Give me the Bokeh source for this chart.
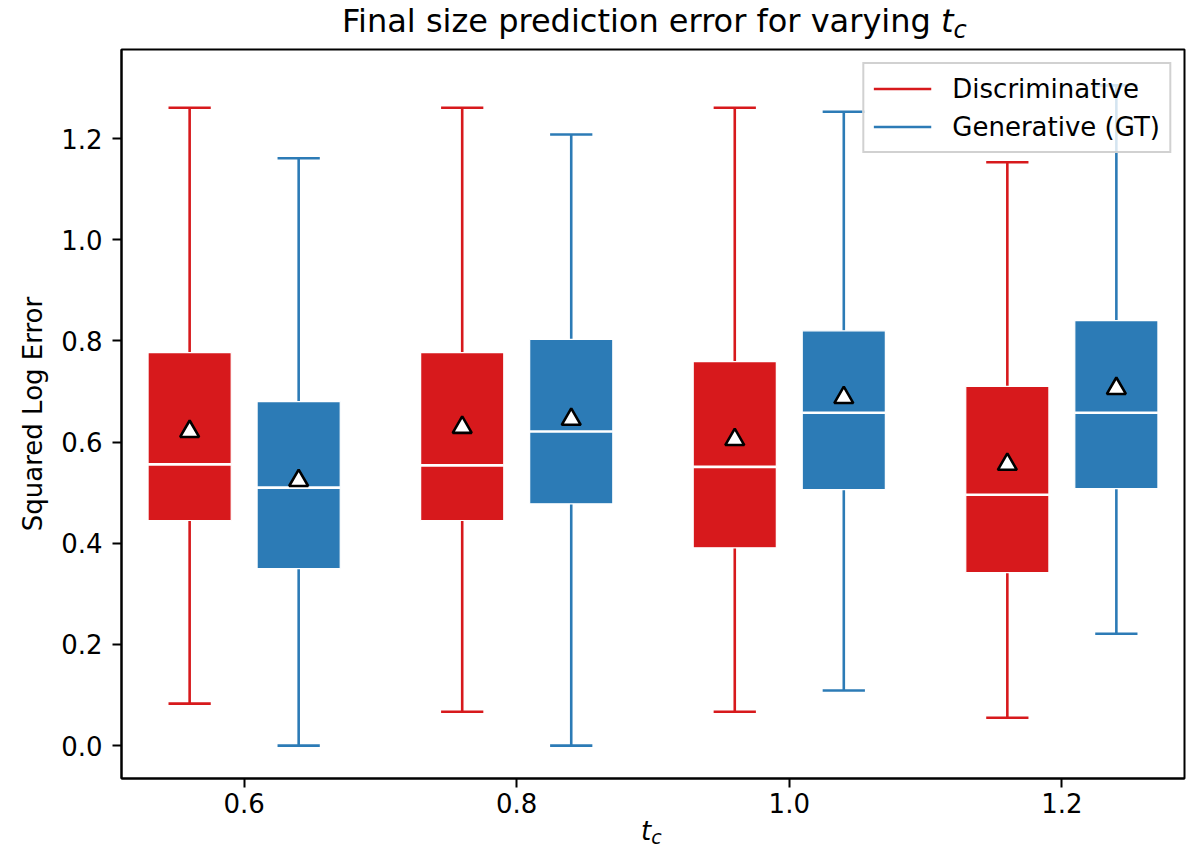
from bokeh.plotting import figure
from bokeh.models import ColumnDataSource, Legend, LegendItem, FixedTicker, Div
from bokeh.layouts import column
from bokeh.transform import dodge
from bokeh.embed import file_html
from bokeh.resources import INLINE

# ---------------- data ----------------
t_c = [0.6, 0.8, 1.0, 1.2]
x_tick_labels = ["0.6", "0.8", "1.0", "1.2"]
y_ticks = [0.0, 0.2, 0.4, 0.6, 0.8, 1.0, 1.2]
y_tick_labels = ["0.0", "0.2", "0.4", "0.6", "0.8", "1.0", "1.2"]

disc_low = [0.083, 0.067, 0.067, 0.055]
disc_q1 = [0.445, 0.445, 0.391, 0.342]
disc_median = [0.556, 0.554, 0.551, 0.496]
disc_q3 = [0.777, 0.777, 0.759, 0.710]
disc_high = [1.261, 1.261, 1.261, 1.153]
disc_mean = [0.621, 0.629, 0.605, 0.556]

gen_low = [0.0, 0.0, 0.109, 0.221]
gen_q1 = [0.350, 0.478, 0.506, 0.508]
gen_median = [0.510, 0.621, 0.658, 0.658]
gen_q3 = [0.680, 0.803, 0.820, 0.840]
gen_high = [1.161, 1.208, 1.253, 1.305]
gen_mean = [0.524, 0.645, 0.688, 0.706]

series_names = ["Discriminative", "Generative (GT)"]
title_text = "Final size prediction error for varying"
RED = "#d7191c"
BLUE = "#2c7bb6"
FONT = "DejaVu Sans"

OFFSET = 0.04
BOX_W = 0.061
CAP_W = 0.031

W = 1186
TITLE_H = 44
XLAB_H = 22
FIG_H = 844 - TITLE_H - XLAB_H

p = figure(width=W, height=FIG_H, x_range=(0.51, 1.29), y_range=(-0.065, 1.376),
           output_backend="svg", toolbar_location=None, title=None,
           min_border_left=121, min_border_right=2, min_border_top=5, min_border_bottom=44,
           background_fill_color="white", border_fill_color="white")
p.xgrid.visible = False
p.ygrid.visible = False
p.outline_line_color = "black"
p.outline_line_width = 2


def draw(low, q1, med, q3, high, mean, color, off):
    src = ColumnDataSource(dict(g=t_c, low=low, q1=q1, med=med, q3=q3, high=high, mean=mean))
    xc = dodge("g", off, range=p.x_range)
    whisker = p.segment(x0=xc, y0="q3", x1=xc, y1="high", source=src,
                        line_color=color, line_width=2.6)
    p.segment(x0=xc, y0="q1", x1=xc, y1="low", source=src, line_color=color, line_width=2.6)
    p.segment(x0=dodge("g", off - CAP_W / 2, range=p.x_range), y0="high",
              x1=dodge("g", off + CAP_W / 2, range=p.x_range), y1="high",
              source=src, line_color=color, line_width=2.6)
    p.segment(x0=dodge("g", off - CAP_W / 2, range=p.x_range), y0="low",
              x1=dodge("g", off + CAP_W / 2, range=p.x_range), y1="low",
              source=src, line_color=color, line_width=2.6)
    p.vbar(x=xc, width=BOX_W, top="q3", bottom="q1", source=src,
           fill_color=color, line_color="white", line_width=1.2)
    p.segment(x0=dodge("g", off - BOX_W / 2, range=p.x_range), y0="med",
              x1=dodge("g", off + BOX_W / 2, range=p.x_range), y1="med",
              source=src, line_color="white", line_width=2.6)
    p.scatter(x=xc, y="mean", source=src, marker="triangle", size=19,
              fill_color="white", line_color="black", line_width=2.6)
    return whisker


r_red = draw(disc_low, disc_q1, disc_median, disc_q3, disc_high, disc_mean, RED, -OFFSET)
r_blue = draw(gen_low, gen_q1, gen_median, gen_q3, gen_high, gen_mean, BLUE, OFFSET)

legend = Legend(items=[LegendItem(label=series_names[0], renderers=[r_red]),
                       LegendItem(label=series_names[1], renderers=[r_blue])],
                location="top_right", margin=13, padding=9, spacing=7,
                glyph_width=58, glyph_height=31, label_height=31, label_standoff=21,
                label_text_font=FONT, label_text_font_size="26px", label_text_color="black",
                border_line_color="#cccccc", border_line_width=2, border_line_alpha=0.9,
                background_fill_color="white", background_fill_alpha=0.8)
p.add_layout(legend)

p.xaxis.ticker = FixedTicker(ticks=t_c)
p.xaxis.major_label_overrides = {t: s for t, s in zip(t_c, x_tick_labels)}
p.yaxis.ticker = FixedTicker(ticks=y_ticks)
p.yaxis.major_label_overrides = {t: s for t, s in zip(y_ticks, y_tick_labels)}
for ax in (p.xaxis, p.yaxis):
    ax.minor_tick_line_color = None
    ax.major_tick_in = 0
    ax.major_tick_out = 9
    ax.major_tick_line_width = 2
    ax.axis_line_width = 2
    ax.axis_line_color = "black"
    ax.major_tick_line_color = "black"
    ax.major_label_text_font = FONT
    ax.major_label_text_font_size = "26px"
    ax.major_label_text_color = "black"
p.xaxis.major_label_standoff = 5
p.yaxis.major_label_standoff = 10
p.yaxis.axis_label = "Squared Log Error"
p.yaxis.axis_label_text_font = FONT
p.yaxis.axis_label_text_font_size = "26px"
p.yaxis.axis_label_text_font_style = "normal"
p.yaxis.axis_label_text_color = "black"
p.yaxis.axis_label_standoff = 10

title_div = Div(
    text=(f'<div style="font-family:\'{FONT}\';font-size:32px;line-height:42px;color:black;'
          f'white-space:nowrap;padding-left:342px">{title_text} '
          '<span style="font-style:italic">t</span>'
          '<span style="font-style:italic;font-size:24px;position:relative;top:6px">c</span></div>'),
    width=W, height=TITLE_H, margin=0)

xlabel_div = Div(
    text=(f'<div style="font-family:\'{FONT}\';font-size:26px;line-height:18px;color:black;'
          'white-space:nowrap;padding-left:641px">'
          '<span style="font-style:italic">t</span>'
          '<span style="font-style:italic;font-size:19px;position:relative;top:4px">c</span></div>'),
    width=W, height=XLAB_H, margin=0)

layout = column(title_div, p, xlabel_div, spacing=0)

open("out.html", "w").write(file_html(layout, INLINE))
